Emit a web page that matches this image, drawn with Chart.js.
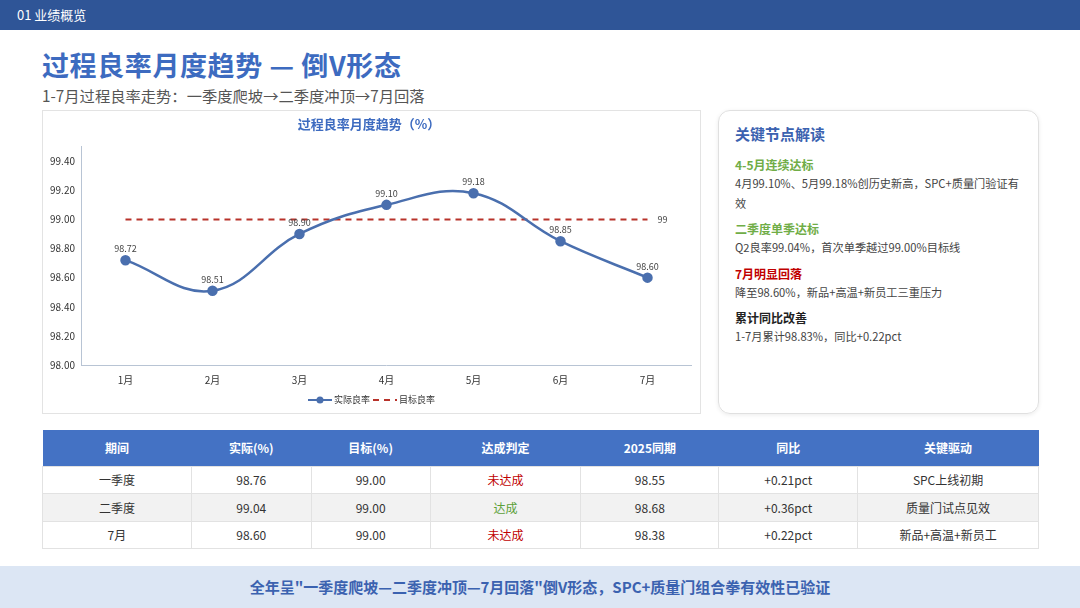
<!DOCTYPE html>
<html>
<head>
<meta charset="utf-8">
<script src="https://cdn.jsdelivr.net/npm/chart.js@4.4.1/dist/chart.umd.min.js"></script>
<style>
  * { margin: 0; padding: 0; box-sizing: border-box; }
  body { width: 1080px; height: 608px; background: #fff; font-family: "Noto Sans CJK SC", "Noto Sans", sans-serif; position: relative; overflow: hidden; color: #333; }
  .topbar { position: absolute; left: 0; top: 0; width: 1080px; height: 30px; background: #2F5597; color: #fff; font-size: 13px; line-height: 30px; padding-left: 17px; }
  .title { position: absolute; left: 42px; top: 45px; font-size: 27px; font-weight: bold; color: #3D6BC0; letter-spacing: 0.6px; }
  .subtitle { position: absolute; left: 42px; top: 84px; font-size: 15.3px; color: #555; }
  .chartcard { position: absolute; left: 42px; top: 110px; width: 659px; height: 304px; border: 1px solid #e3e3e3; background: #fff; }
  .side { position: absolute; left: 718px; top: 110px; width: 321px; height: 304px; border: 1px solid #e0e0e0; border-radius: 12px; box-shadow: 0 1px 4px rgba(0,0,0,0.08); padding: 12px 16px; }
  .side h3 { font-size: 15px; color: #3B62B0; font-weight: bold; margin-bottom: 12px; }
  .side .h { font-size: 12px; font-weight: bold; margin-top: 7px; line-height: 18px; }
  .side .h.first { margin-top: 4px; }
  .side .b { font-size: 11.2px; color: #444; line-height: 19.5px; margin-bottom: 2px; }
  table { position: absolute; left: 42px; top: 430px; width: 997px; border-collapse: collapse; font-size: 12px; }
  th { background: #4472C4; color: #fff; font-weight: bold; height: 36px; }
  td { height: 27.5px; text-align: center; color: #333; border: 1px solid #e2e2e2; }
  tr.alt td { background: #F2F2F2; }
  .red { color: #C00000; }
  .green { color: #5BA038; }
  .banner { position: absolute; left: 0; top: 566px; width: 1080px; height: 42px; background: #DCE6F4; text-align: center; line-height: 42px; font-size: 15px; font-weight: bold; color: #3B62B0; }
</style>
</head>
<body>
<div class="topbar">01 业绩概览</div>
<div class="title">过程良率月度趋势 — 倒V形态</div>
<div class="subtitle">1-7月过程良率走势：一季度爬坡→二季度冲顶→7月回落</div>
<div class="chartcard"><canvas id="c" width="657" height="302"></canvas></div>
<div class="side">
  <h3>关键节点解读</h3>
  <div class="h first" style="color:#70AD47">4-5月连续达标</div>
  <div class="b">4月99.10%、5月99.18%创历史新高，SPC+质量门验证有效</div>
  <div class="h" style="color:#70AD47">二季度单季达标</div>
  <div class="b">Q2良率99.04%，首次单季越过99.00%目标线</div>
  <div class="h" style="color:#C00000">7月明显回落</div>
  <div class="b">降至98.60%，新品+高温+新员工三重压力</div>
  <div class="h" style="color:#222">累计同比改善</div>
  <div class="b">1-7月累计98.83%，同比+0.22pct</div>
</div>
<table>
  <colgroup>
    <col style="width:149px"><col style="width:120px"><col style="width:119px"><col style="width:151px"><col style="width:138px"><col style="width:139px"><col style="width:181px">
  </colgroup>
  <thead><tr><th>期间</th><th>实际(%)</th><th>目标(%)</th><th>达成判定</th><th>2025同期</th><th>同比</th><th>关键驱动</th></tr></thead>
  <tbody>
    <tr><td>一季度</td><td>98.76</td><td>99.00</td><td class="red">未达成</td><td>98.55</td><td>+0.21pct</td><td>SPC上线初期</td></tr>
    <tr class="alt"><td>二季度</td><td>99.04</td><td>99.00</td><td class="green">达成</td><td>98.68</td><td>+0.36pct</td><td>质量门试点见效</td></tr>
    <tr><td>7月</td><td>98.60</td><td>99.00</td><td class="red">未达成</td><td>98.38</td><td>+0.22pct</td><td>新品+高温+新员工</td></tr>
  </tbody>
</table>
<div class="banner">全年呈"一季度爬坡—二季度冲顶—7月回落"倒V形态，SPC+质量门组合拳有效性已验证</div>

<script>
const months = ['1月', '2月', '3月', '4月', '5月', '6月', '7月'];
const actualYield = [98.72, 98.51, 98.90, 99.10, 99.18, 98.85, 98.60];
const targetYield = [99, 99, 99, 99, 99, 99, 99];
const yTicks = [98.0, 98.2, 98.4, 98.6, 98.8, 99.0, 99.2, 99.4];

const labelPlugin = {
  id: 'valueLabels',
  afterDatasetsDraw(chart) {
    const ctx = chart.ctx;
    ctx.save();
    ctx.font = '9px "Noto Sans CJK SC", sans-serif';
    ctx.fillStyle = '#444';
    chart.getDatasetMeta(0).data.forEach((pt, i) => {
      ctx.textAlign = 'center';
      ctx.textBaseline = 'bottom';
      ctx.fillText(actualYield[i].toFixed(2), pt.x, pt.y - 7);
    });
    const meta = chart.getDatasetMeta(1).data;
    const last = meta[meta.length - 1];
    ctx.textAlign = 'left';
    ctx.textBaseline = 'middle';
    ctx.fillText(String(targetYield[targetYield.length - 1]), last.x + 10, last.y);
    ctx.restore();
  }
};

// hand-drawn legend: line+marker for actual, dashed line for target
const legendPlugin = {
  id: 'miniLegend',
  afterDraw(chart) {
    const ctx = chart.ctx;
    const ds = chart.data.datasets;
    ctx.save();
    ctx.font = '9px "Noto Sans CJK SC", sans-serif';
    ctx.textBaseline = 'middle';
    const sw = 24, gap = 2, sep = 3;
    const widths = ds.map(d => sw + gap + ctx.measureText(d.label).width);
    const total = widths[0] + sep + widths[1];
    let x = chart.width / 2 - total / 2;
    const y = 289;
    ds.forEach((d, i) => {
      ctx.strokeStyle = d.borderColor;
      ctx.lineWidth = 2;
      ctx.setLineDash(d.borderDash || []);
      ctx.beginPath();
      ctx.moveTo(x, y);
      ctx.lineTo(x + sw, y);
      ctx.stroke();
      ctx.setLineDash([]);
      if (i === 0) {
        ctx.fillStyle = d.borderColor;
        ctx.beginPath();
        ctx.arc(x + sw / 2, y, 3.5, 0, Math.PI * 2);
        ctx.fill();
      }
      ctx.fillStyle = '#333';
      ctx.textAlign = 'left';
      ctx.fillText(d.label, x + sw + gap, y);
      x += widths[i] + sep;
    });
    ctx.restore();
  }
};

new Chart(document.getElementById('c'), {
  type: 'line',
  data: {
    labels: months,
    datasets: [{
      label: '实际良率',
      data: actualYield,
      borderColor: '#4A6FAE',
      backgroundColor: '#4A6FAE',
      borderWidth: 2.5,
      pointRadius: 4,
      pointHoverRadius: 4,
      tension: 0.4
    }, {
      label: '目标良率',
      data: targetYield,
      borderColor: '#B8322A',
      backgroundColor: '#B8322A',
      borderWidth: 2,
      borderDash: [6, 5],
      pointRadius: 0,
      fill: false
    }]
  },
  options: {
    responsive: false,
    animation: false,
    layout: { padding: { left: 4, right: 9, top: 0, bottom: 23 } },
    plugins: {
      title: {
        display: true,
        text: '过程良率月度趋势（%）',
        color: '#3D6BC0',
        font: { size: 13, weight: 'bold', family: '"Noto Sans CJK SC"' },
        padding: { top: 5, bottom: 15 }
      },
      legend: { display: false },
      tooltip: { enabled: false }
    },
    scales: {
      x: {
        offset: true,
        grid: { display: false, drawTicks: true, tickLength: 5, color: '#aaa' },
        border: { color: '#b8c4d4' },
        ticks: { color: '#333', font: { size: 10, family: '"Noto Sans CJK SC"' }, padding: 4 }
      },
      y: {
        min: 98.0,
        max: 99.5,
        afterBuildTicks(axis) {
          axis.ticks = yTicks.map(v => ({ value: v }));
        },
        grid: { display: false, drawTicks: true, tickLength: 4 },
        border: { color: '#b8c4d4' },
        ticks: {
          color: '#333',
          font: { size: 10, family: '"Noto Sans CJK SC"' },
          callback: v => Number(v).toFixed(2)
        }
      }
    }
  },
  plugins: [labelPlugin, legendPlugin]
});
</script>
</body>
</html>
